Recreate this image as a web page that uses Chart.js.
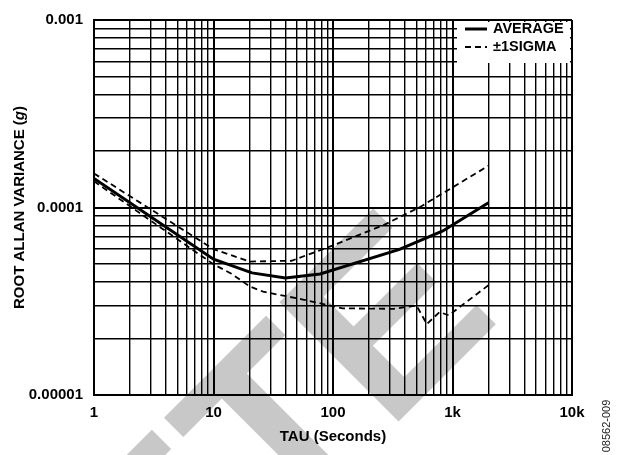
<!DOCTYPE html>
<html lang="en">
<head>
    <meta charset="UTF-8">
    <title>Root Allan Variance</title>
    <script src="https://cdn.jsdelivr.net/npm/chart.js"></script>
    <style>
        body { margin: 0; background: #fff; }
    </style>
</head>
<body>
    <canvas id="allanChart" width="617" height="455"></canvas>
<script>
    // tick labels
    const xTickValues = [1, 10, 100, 1000, 10000];
    const xTickLabels = ['1', '10', '100', '1k', '10k'];
    const yTickValues = [0.00001, 0.0001, 0.001];
    const yTickLabels = ['0.00001', '0.0001', '0.001'];

    // average curve
    const averageTau = [1, 10, 21, 40, 78, 360, 830, 2000];
    const averageValues = [1.43e-4, 5.3e-5, 4.48e-5, 4.21e-5, 4.42e-5, 5.98e-5, 7.5e-5, 1.06e-4];

    // +1 sigma
    const sigmaHighTau = [1, 10, 20, 45, 95, 270, 540, 2000];
    const sigmaHighValues = [1.52e-4, 6.0e-5, 5.15e-5, 5.2e-5, 6.2e-5, 8.1e-5, 1.01e-4, 1.67e-4];

    // -1 sigma
    const sigmaLowTau = [1, 10, 14, 20, 26, 56, 120, 320, 500, 610, 780, 930, 2000];
    const sigmaLowValues = [1.38e-4, 4.98e-5, 4.45e-5, 3.8e-5, 3.56e-5, 3.23e-5, 2.9e-5, 2.88e-5, 3.0e-5, 2.39e-5, 2.77e-5, 2.66e-5, 3.85e-5];

    const FONT = '"Liberation Sans", Arial, sans-serif';

    function toPoints(xs, ys) {
        return xs.map((x, i) => ({ x: x, y: ys[i] }));
    }

    // 1..9 per decade
    function gridValues(decades) {
        const out = [];
        for (let i = 0; i < decades.length - 1; i++) {
            for (let m = 1; m < 10; m++) out.push(decades[i] * m);
        }
        out.push(decades[decades.length - 1]);
        return out;
    }

    function findMajor(value, list) {
        return list.findIndex(v => Math.abs(Math.log10(v) - Math.log10(value)) < 1e-6);
    }

    // white background + watermark behind the grid
    const backgroundPlugin = {
        id: 'background',
        beforeDraw(chart) {
            const ctx = chart.ctx;
            ctx.save();
            ctx.fillStyle = '#fff';
            ctx.fillRect(0, 0, chart.width, chart.height);
            ctx.translate(387, 433);
            ctx.rotate(-Math.PI / 4);
            ctx.fillStyle = 'rgb(200, 200, 200)';
            ctx.font = 'bold 245px ' + FONT;
            ctx.textBaseline = 'alphabetic';
            ctx.textAlign = 'right';
            ctx.fillText('OBSOLET', 0, 0);
            ctx.textAlign = 'left';
            ctx.fillText('E', 0, 0);
            ctx.restore();
        }
    };

    // y title with italic g, legend box, figure code
    const textPlugin = {
        id: 'texts',
        afterDraw(chart) {
            const ctx = chart.ctx;
            const area = chart.chartArea;

            ctx.save();
            ctx.translate(20, (area.top + area.bottom) / 2);
            ctx.rotate(-Math.PI / 2);
            ctx.fillStyle = '#000';
            ctx.textBaseline = 'middle';
            ctx.textAlign = 'left';
            const parts = [
                { t: 'ROOT ALLAN VARIANCE (', f: 'bold 15px ' + FONT },
                { t: 'g', f: 'italic bold 15px ' + FONT },
                { t: ')', f: 'bold 15px ' + FONT }
            ];
            let total = 0;
            parts.forEach(p => { ctx.font = p.f; p.w = ctx.measureText(p.t).width; total += p.w; });
            let x = -total / 2;
            parts.forEach(p => { ctx.font = p.f; ctx.fillText(p.t, x, 0); x += p.w; });
            ctx.restore();

            // legend
            ctx.save();
            ctx.fillStyle = '#fff';
            ctx.fillRect(457, area.top + 2, area.right - 2 - 457, 43 - 2);
            const items = chart.data.datasets.filter(d => d.inLegend);
            items.forEach((d, i) => {
                const y = 29 + i * 18;
                ctx.strokeStyle = '#000';
                ctx.lineWidth = d.borderWidth;
                ctx.setLineDash(d.borderDash || []);
                ctx.beginPath();
                ctx.moveTo(465, y);
                ctx.lineTo(487, y);
                ctx.stroke();
                ctx.setLineDash([]);
                ctx.fillStyle = '#000';
                ctx.font = 'bold 14.5px ' + FONT;
                ctx.textBaseline = 'middle';
                ctx.textAlign = 'left';
                ctx.fillText(d.label, 493, y);
            });
            ctx.restore();

            ctx.save();
            ctx.translate(607, 426);
            ctx.rotate(-Math.PI / 2);
            ctx.fillStyle = '#222';
            ctx.font = '11px ' + FONT;
            ctx.textAlign = 'center';
            ctx.textBaseline = 'middle';
            ctx.fillText('08562-009', 0, 0);
            ctx.restore();
        }
    };

    const ctx = document.getElementById('allanChart').getContext('2d');
    new Chart(ctx, {
        type: 'line',
        data: {
            datasets: [
                {
                    label: 'AVERAGE',
                    data: toPoints(averageTau, averageValues),
                    borderColor: '#000',
                    borderWidth: 3,
                    inLegend: true
                },
                {
                    label: '\u00b11SIGMA',
                    data: toPoints(sigmaHighTau, sigmaHighValues),
                    borderColor: '#000',
                    borderWidth: 1.8,
                    borderDash: [6, 4],
                    inLegend: true
                },
                {
                    label: '-1SIGMA',
                    data: toPoints(sigmaLowTau, sigmaLowValues),
                    borderColor: '#000',
                    borderWidth: 1.8,
                    borderDash: [6, 4],
                    inLegend: false
                }
            ]
        },
        options: {
            responsive: false,
            animation: false,
            devicePixelRatio: 1,
            layout: { padding: { top: 14, right: 45, left: 0, bottom: 0 } },
            elements: {
                point: { radius: 0 },
                line: { tension: 0 }
            },
            plugins: {
                legend: { display: false },
                tooltip: { enabled: false }
            },
            scales: {
                x: {
                    type: 'logarithmic',
                    min: 1,
                    max: 10000,
                    afterBuildTicks: s => { s.ticks = gridValues(xTickValues).map(v => ({ value: v })); },
                    afterFit: s => { s.height = 60; },
                    grid: {
                        color: '#000',
                        drawTicks: false,
                        lineWidth: c => findMajor(c.tick.value, xTickValues) >= 0 ? 2 : 1.4
                    },
                    border: { color: '#000', width: 2 },
                    ticks: {
                        autoSkip: false,
                        maxRotation: 0,
                        padding: 9,
                        color: '#000',
                        font: { family: FONT, size: 15, weight: 'bold' },
                        callback: v => {
                            const i = findMajor(v, xTickValues);
                            return i >= 0 ? xTickLabels[i] : '';
                        }
                    },
                    title: {
                        display: true,
                        text: 'TAU (Seconds)',
                        color: '#000',
                        font: { family: FONT, size: 15, weight: 'bold' },
                        padding: { top: 0, bottom: 9 }
                    }
                },
                y: {
                    type: 'logarithmic',
                    min: 0.00001,
                    max: 0.001,
                    afterBuildTicks: s => { s.ticks = gridValues(yTickValues).map(v => ({ value: v })); },
                    afterFit: s => { s.width = 94; },
                    grid: {
                        color: '#000',
                        drawTicks: false,
                        lineWidth: c => findMajor(c.tick.value, yTickValues) >= 0 ? 2 : 1.4
                    },
                    border: { color: '#000', width: 2 },
                    ticks: {
                        autoSkip: false,
                        padding: 11,
                        color: '#000',
                        font: { family: FONT, size: 15, weight: 'bold' },
                        callback: v => {
                            const i = findMajor(v, yTickValues);
                            return i >= 0 ? yTickLabels[i] : '';
                        }
                    }
                }
            }
        },
        plugins: [backgroundPlugin, textPlugin]
    });
</script>
</body>
</html>
